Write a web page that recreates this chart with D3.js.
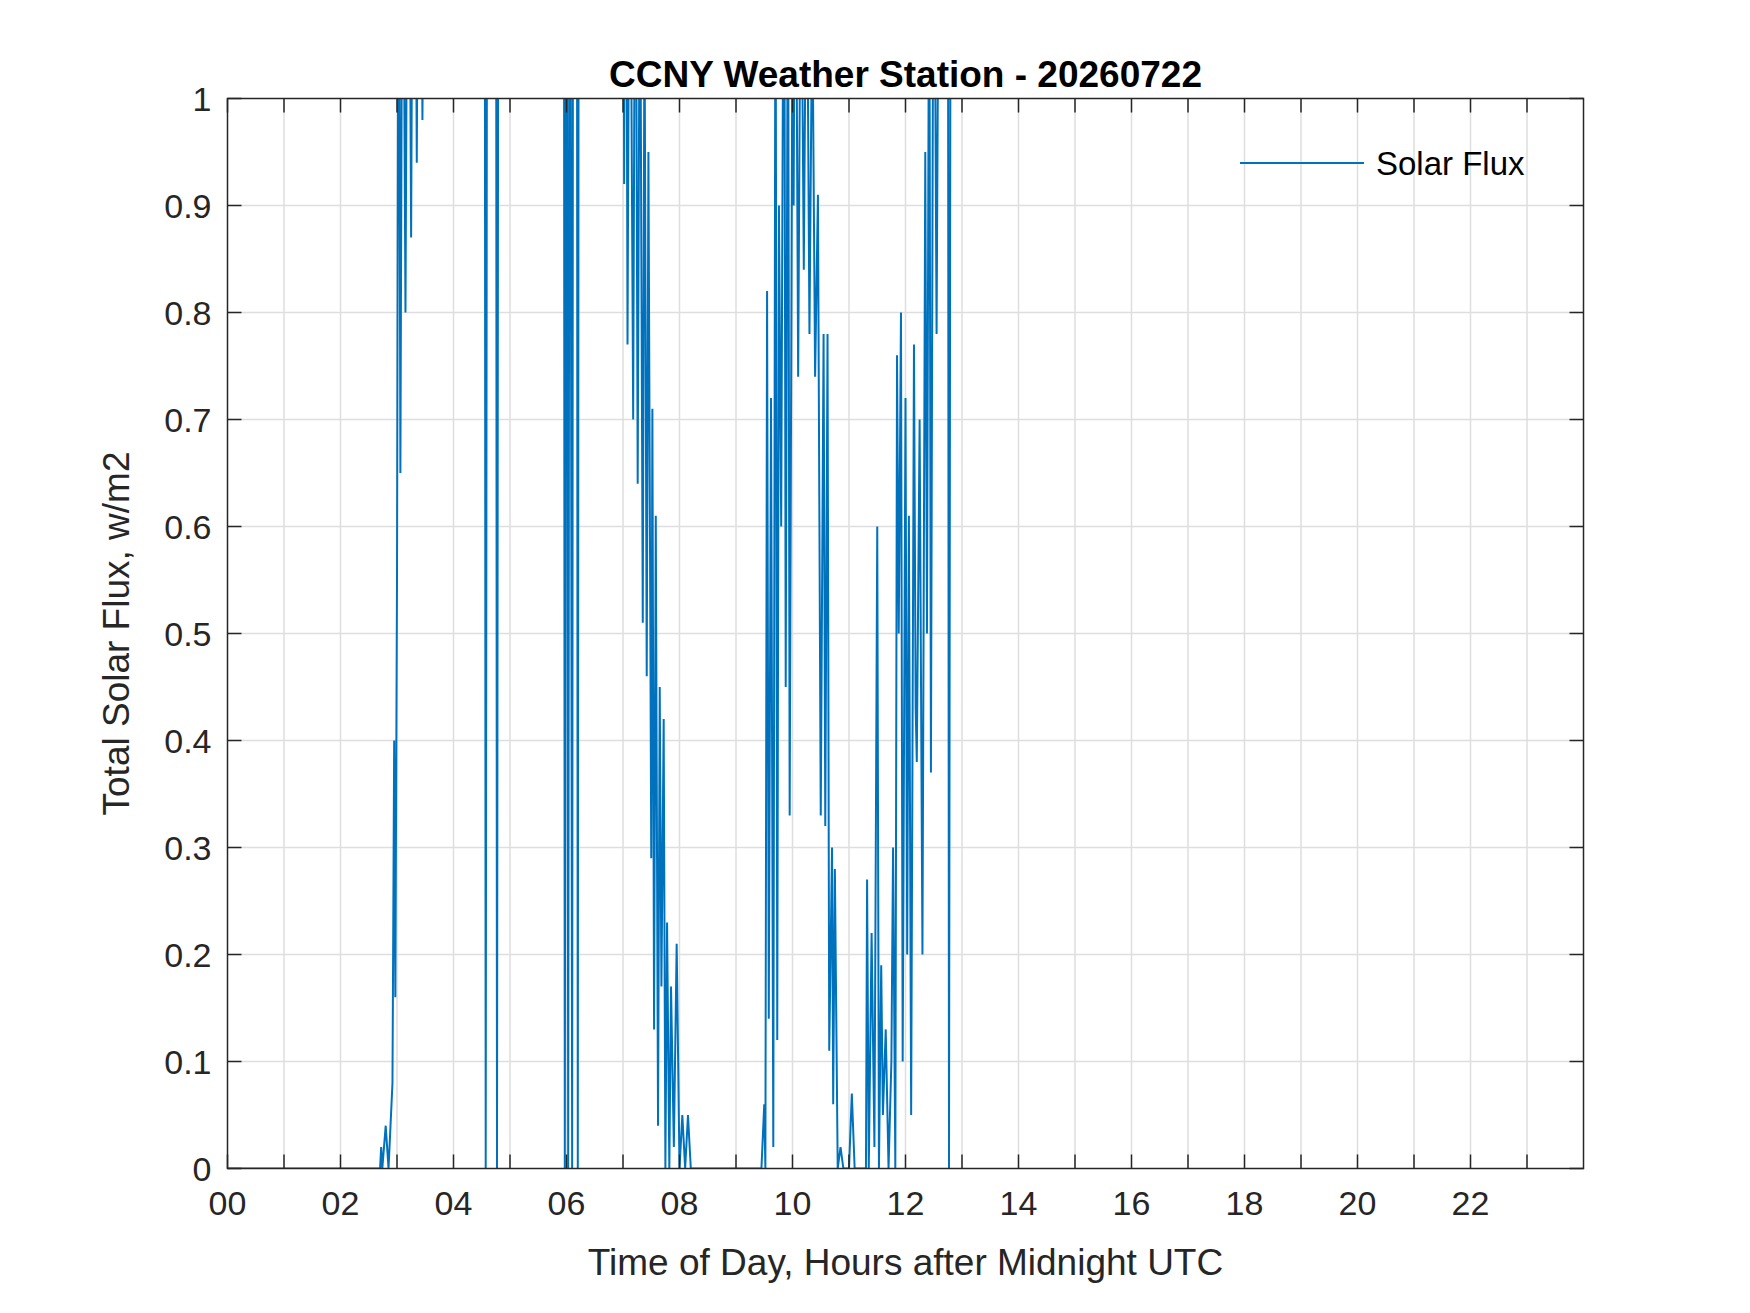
<!DOCTYPE html>
<html>
<head>
<meta charset="utf-8">
<script src="https://cdn.jsdelivr.net/npm/d3@7"></script>
<style>
  body { margin: 0; background: #fff; }
  text { font-family: "Liberation Sans", Arial, sans-serif; fill: #262626; }
</style>
</head>
<body>
<svg id="chart" width="1750" height="1313"></svg>
<script>
// sampled flux readings (values above 1 are clipped by the axis)
var hours = [0, 2.7, 2.72, 2.74, 2.8, 2.85, 2.92, 2.95, 2.97, 3.0, 3.03, 3.06, 3.1, 3.15, 3.2, 3.25, 3.3, 3.35, 3.4, 3.45, 3.5,
  4.55, 4.57, 4.6, 4.75, 4.77, 4.8,
  5.95, 5.97, 6.0, 6.03, 6.06, 6.1, 6.12, 6.18, 6.2, 6.22,
  7.0, 7.02, 7.05, 7.08, 7.12, 7.18, 7.22, 7.26, 7.3, 7.35, 7.38, 7.42, 7.45, 7.5, 7.52, 7.55, 7.58, 7.62, 7.65, 7.68, 7.72, 7.75, 7.78, 7.82, 7.85, 7.9, 7.95, 8.0, 8.05, 8.1, 8.15, 8.2,
  9.45, 9.5, 9.52, 9.55, 9.58, 9.62, 9.66, 9.7, 9.73, 9.76, 9.8, 9.85, 9.88, 9.92, 9.95, 10.0, 10.02, 10.05, 10.1, 10.15, 10.2, 10.25, 10.3, 10.35, 10.4, 10.45, 10.5, 10.55, 10.58, 10.62, 10.65, 10.7, 10.72, 10.75, 10.8, 10.85, 10.9,
  11.0, 11.05, 11.1, 11.3, 11.32, 11.35, 11.4, 11.45, 11.5, 11.53, 11.57, 11.6, 11.65, 11.7, 11.75, 11.78, 11.82, 11.85, 11.88, 11.92, 11.95, 12.0, 12.03, 12.06, 12.1, 12.15, 12.18, 12.2, 12.25, 12.3, 12.35, 12.38, 12.42, 12.45, 12.5, 12.55, 12.6, 12.75, 12.77, 12.8];
var flux = [0, 0, 0.02, 0, 0.04, 0, 0.08, 0.4, 0.16, 0.55, 1.3, 0.65, 1.3, 0.8, 1.4, 0.87, 1.5, 0.94, 1.5, 0.98, 1.4,
  1.5, 0, 1.5, 1.5, 0, 1.6,
  1.6, 0, 1.6, 0, 1.6, 0, 1.6, 1.6, 0, 1.6,
  1.5, 0.92, 1.4, 0.77, 1.3, 0.7, 1.3, 0.64, 1.2, 0.51, 1.1, 0.46, 0.95, 0.29, 0.71, 0.13, 0.61, 0.04, 0.45, 0.17, 0.42, 0, 0.23, 0, 0.17, 0.02, 0.21, 0, 0.05, 0, 0.05, 0,
  0, 0.06, 0, 0.82, 0.14, 0.72, 0.02, 1.2, 0.12, 0.9, 0.6, 1.3, 0.45, 1.2, 0.33, 1.1, 0.9, 1.3, 0.74, 1.2, 0.84, 1.2, 0.78, 1.1, 0.74, 0.91, 0.33, 0.78, 0.32, 0.78, 0.11, 0.3, 0.06, 0.28, 0, 0.02, 0,
  0, 0.07, 0, 0, 0.27, 0, 0.22, 0.02, 0.6, 0, 0.19, 0.05, 0.13, 0, 0.1, 0.3, 0, 0.76, 0.5, 0.8, 0.1, 0.72, 0.2, 0.61, 0.05, 0.77, 0.43, 0.38, 0.7, 0.2, 0.95, 0.5, 1.2, 0.37, 1.3, 0.78, 1.3, 1.3, 0, 1.3];
var xTicks = d3.range(0, 24, 2);
var yTicks = d3.range(0, 11).map(function(i) { return i / 10; });

var svg = d3.select("#chart"),
    mLeft = 227.5, mTop = 98.5, width = 1356, height = 1070;

var x = d3.scaleLinear().domain([0, 24]).range([mLeft, mLeft + width]);
var y = d3.scaleLinear().domain([0, 1]).range([mTop + height, mTop]);

// grid every hour and every 0.1
svg.append("g").selectAll("line").data(d3.range(1, 24)).join("line")
    .attr("x1", x).attr("x2", x).attr("y1", mTop).attr("y2", mTop + height)
    .attr("stroke", "#dedede").attr("stroke-width", 1.5);
svg.append("g").selectAll("line").data(yTicks.slice(1, 10)).join("line")
    .attr("y1", y).attr("y2", y).attr("x1", mLeft).attr("x2", mLeft + width)
    .attr("stroke", "#dedede").attr("stroke-width", 1.5);

svg.append("clipPath").attr("id", "clip").append("rect")
    .attr("x", mLeft).attr("y", mTop).attr("width", width).attr("height", height);

var line = d3.line()
    .x(function(d, i) { return x(hours[i]); })
    .y(function(d) { return y(d); });

svg.append("path").datum(flux)
    .attr("clip-path", "url(#clip)")
    .attr("d", line)
    .attr("fill", "none").attr("stroke", "#0072BD").attr("stroke-width", 2);

// box and inward ticks
svg.append("rect").attr("x", mLeft).attr("y", mTop).attr("width", width).attr("height", height)
    .attr("fill", "none").attr("stroke", "#262626").attr("stroke-width", 1.5);

var tk = 14;
var xt = svg.append("g");
xTicks.concat(d3.range(1, 24, 2)).forEach(function(h) {
    xt.append("line").attr("x1", x(h)).attr("x2", x(h)).attr("y1", mTop + height).attr("y2", mTop + height - tk).attr("stroke", "#262626").attr("stroke-width", 1.5);
    xt.append("line").attr("x1", x(h)).attr("x2", x(h)).attr("y1", mTop).attr("y2", mTop + tk).attr("stroke", "#262626").attr("stroke-width", 1.5);
});
xt.selectAll("text").data(xTicks).join("text")
    .attr("x", x).attr("y", mTop + height + 46)
    .attr("text-anchor", "middle").attr("font-size", 34)
    .text(function(d) { return d3.format("02d")(d); });

var yt = svg.append("g");
yTicks.forEach(function(v) {
    yt.append("line").attr("x1", mLeft).attr("x2", mLeft + tk).attr("y1", y(v)).attr("y2", y(v)).attr("stroke", "#262626").attr("stroke-width", 1.5);
    yt.append("line").attr("x1", mLeft + width).attr("x2", mLeft + width - tk).attr("y1", y(v)).attr("y2", y(v)).attr("stroke", "#262626").attr("stroke-width", 1.5);
});
yt.selectAll("text").data(yTicks).join("text")
    .attr("x", mLeft - 16).attr("y", function(d) { return y(d) + 12; })
    .attr("text-anchor", "end").attr("font-size", 34)
    .text(function(d) { return d3.format("")(d); });

svg.append("text").attr("x", mLeft + width / 2).attr("y", mTop - 12)
    .attr("text-anchor", "middle").attr("font-size", 37).attr("font-weight", "bold")
    .style("fill", "#000").text("CCNY Weather Station - 20260722");

svg.append("text").attr("x", mLeft + width / 2).attr("y", mTop + height + 106)
    .attr("text-anchor", "middle").attr("font-size", 37)
    .text("Time of Day, Hours after Midnight UTC");

svg.append("text").attr("transform", "translate(" + (mLeft - 99) + "," + (mTop + height / 2) + ") rotate(-90)")
    .attr("text-anchor", "middle").attr("font-size", 37)
    .text("Total Solar Flux, w/m2");

// legend
svg.append("line").attr("x1", 1240).attr("x2", 1364).attr("y1", 163).attr("y2", 163)
    .attr("stroke", "#0072BD").attr("stroke-width", 2);
svg.append("text").attr("x", 1376).attr("y", 175).attr("font-size", 33)
    .style("fill", "#000").text("Solar Flux");
</script>
</body>
</html>
